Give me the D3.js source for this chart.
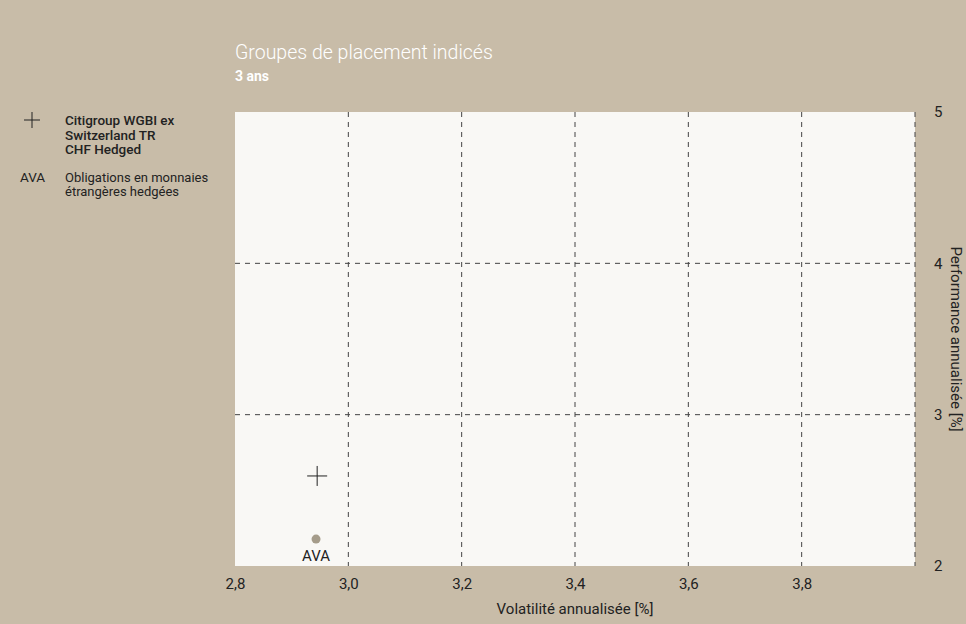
<!DOCTYPE html>
<html><head><meta charset="utf-8">
<script src="https://cdn.jsdelivr.net/npm/d3@7"></script>
<style>body{margin:0;background:#c8bca8;} svg{display:block;}</style>
</head><body>
<script>
const xTicks = [2.8, 3.0, 3.2, 3.4, 3.6, 3.8];
const yTicks = [2, 3, 4, 5];
const xGrid = [3.0, 3.2, 3.4, 3.6, 3.8, 4.0];
const yGrid = [3, 4];
const benchName = ["Citigroup WGBI ex", "Switzerland TR", "CHF Hedged"];
const groupName = ["Obligations en monnaies", "étrangères hedgées"];
const benchPoint = {vol: 2.945, perf: 2.595};
const groupPoint = {vol: 2.943, perf: 2.178, label: "AVA"};

const W = 966, H = 624;
const font = "Roboto, 'Open Sans', sans-serif";
const svg = d3.select("body").append("svg").attr("width", W).attr("height", H);
svg.append("rect").attr("width", W).attr("height", H).attr("fill", "#c8bca8");

const x = d3.scaleLinear().domain([2.8, 4.0]).range([235, 915]);
const y = d3.scaleLinear().domain([2, 5]).range([566, 112]);

svg.append("rect").attr("x", x(2.8)).attr("y", y(5))
  .attr("width", x(4.0) - x(2.8)).attr("height", y(2) - y(5)).attr("fill", "#f9f8f5");

// grid
svg.selectAll(".vg").data(xGrid).join("line")
  .attr("x1", d => x(d)).attr("x2", d => x(d)).attr("y1", y(5)).attr("y2", y(2))
  .attr("stroke", "#444").attr("stroke-width", 1).attr("stroke-dasharray", "5,5");
svg.selectAll(".hg").data(yGrid).join("line")
  .attr("x1", x(2.8)).attr("x2", x(4.0)).attr("y1", d => y(d)).attr("y2", d => y(d))
  .attr("stroke", "#444").attr("stroke-width", 1).attr("stroke-dasharray", "5,5");

const fmt = d => d3.format(".1f")(d).replace(".", ",");
// x axis labels
const xa = svg.append("g").attr("transform", `translate(0,${y(2)})`)
  .call(d3.axisBottom(x).tickValues(xTicks).tickFormat(fmt).tickSize(0).tickPadding(12));
xa.select(".domain").remove();
xa.selectAll("text").attr("font-family", font).attr("font-size", 15).attr("fill", "#222");

// y axis labels (right)
const ya = svg.append("g").attr("transform", `translate(${x(4.0)},0)`)
  .call(d3.axisRight(y).tickValues(yTicks).tickFormat(d3.format("d")).tickSize(0).tickPadding(19));
ya.select(".domain").remove();
ya.selectAll("text").attr("font-family", font).attr("font-size", 15).attr("fill", "#222");

// axis titles
svg.append("text").attr("x", (x(2.8) + x(4.0)) / 2).attr("y", 614).attr("text-anchor", "middle")
  .attr("font-family", font).attr("font-size", 15).attr("fill", "#222").text("Volatilité annualisée [%]");
svg.append("text").attr("transform", `translate(951,${(y(2) + y(5)) / 2}) rotate(90)`)
  .attr("text-anchor", "middle").attr("font-family", font).attr("font-size", 15).attr("fill", "#222")
  .text("Performance annualisée [%]");

// title
svg.append("text").attr("x", 235).attr("y", 59).attr("font-family", font).attr("font-weight", 300)
  .attr("font-size", 19.5).attr("fill", "#fff").text("Groupes de placement indicés");
svg.append("text").attr("x", 235).attr("y", 81).attr("font-family", font)
  .attr("font-weight", "bold").attr("font-size", 14).attr("fill", "#fff").text("3 ans");

// points
const cs = 10;
svg.append("path")
  .attr("d", `M${x(benchPoint.vol) - cs},${y(benchPoint.perf)}h${2 * cs}M${x(benchPoint.vol)},${y(benchPoint.perf) - cs}v${2 * cs}`)
  .attr("stroke", "#222").attr("stroke-width", 1).attr("fill", "none");
svg.append("circle").attr("cx", x(groupPoint.vol)).attr("cy", y(groupPoint.perf)).attr("r", 4.5).attr("fill", "#a59c8a");
svg.append("text").attr("x", x(groupPoint.vol)).attr("y", 561).attr("text-anchor", "middle")
  .attr("font-family", font).attr("font-size", 15).attr("fill", "#222").text(groupPoint.label);

// legend
svg.append("path").attr("d", "M24,120h16M32,112v16").attr("stroke", "#222").attr("stroke-width", 1);
svg.append("text").attr("font-family", font).attr("font-size", 13.5).attr("font-weight", 500).attr("fill", "#222")
  .selectAll("tspan").data(benchName).join("tspan").attr("x", 65).attr("y", (d, i) => 125 + i * 14.5).text(d => d);
svg.append("text").attr("x", 20).attr("y", 182).attr("font-family", font).attr("font-size", 13.5).attr("fill", "#222").text(groupPoint.label);
svg.append("text").attr("font-family", font).attr("font-size", 13).attr("fill", "#222")
  .selectAll("tspan").data(groupName).join("tspan").attr("x", 65).attr("y", (d, i) => 182 + i * 14).text(d => d);
</script>
</body></html>
